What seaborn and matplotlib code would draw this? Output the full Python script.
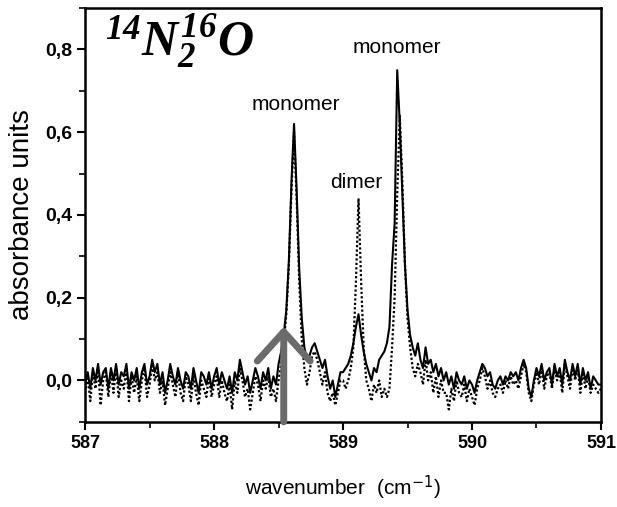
import numpy as np
import pandas as pd
import matplotlib
matplotlib.use('Agg')
import matplotlib.pyplot as plt
from matplotlib.ticker import MultipleLocator
import seaborn as sns

# wavenumber grid (cm-1), one point every 0.02
wavenumber = np.round(np.arange(587.0, 591.0001, 0.02), 2)

# solid trace (10 points = 0.2 cm-1)
solid = [
    -0.01, 0.02, -0.02, 0.03, 0.00, 0.04, -0.01, 0.02, 0.03, -0.02,
    0.03, 0.00, 0.04, -0.01, 0.02, 0.01, 0.04, -0.02, 0.02, 0.00,
    0.03, -0.02, 0.02, 0.04, -0.01, 0.01, 0.05, 0.02, 0.04, -0.01,
    0.02, -0.03, 0.00, 0.04, 0.01, -0.01, 0.03, 0.00, -0.02, 0.02,
    0.01, -0.02, 0.03, 0.00, -0.03, 0.02, 0.01, -0.01, 0.02, -0.02,
    0.01, 0.03, -0.01, 0.02, 0.00, -0.02, 0.01, -0.03, 0.02, 0.00,
    0.05, 0.02, -0.01, 0.01, -0.03, 0.00, 0.03, 0.01, -0.02, 0.02,
    0.00, 0.03, -0.02, 0.01, -0.01, 0.04, 0.07, 0.11, 0.17, 0.29,
    0.48, 0.62, 0.46, 0.27, 0.15, 0.08, 0.05, 0.06, 0.08, 0.09,
    0.07, 0.05, 0.03, 0.05, 0.01, -0.02, 0.00, -0.04, -0.01, 0.02,
    0.02, 0.03, 0.04, 0.06, 0.09, 0.13, 0.16, 0.11, 0.07, 0.04,
    0.02, 0.00, 0.03, 0.02, 0.05, 0.06, 0.07, 0.09, 0.13, 0.28,
    0.38, 0.75, 0.62, 0.45, 0.28, 0.17, 0.11, 0.08, 0.06, 0.09,
    0.05, 0.03, 0.08, 0.04, 0.05, 0.02, 0.04, 0.01, 0.03, 0.00,
    0.02, -0.01, 0.01, -0.02, 0.02, 0.00, -0.01, 0.01, -0.02, 0.00,
    -0.01, -0.03, 0.00, 0.02, 0.04, 0.03, 0.01, 0.02, -0.01, -0.02,
    0.00, 0.01, -0.01, 0.01, 0.00, 0.02, 0.01, 0.02, 0.00, 0.03,
    0.05, 0.03, -0.02, -0.04, 0.00, 0.03, 0.01, 0.04, 0.00, 0.02,
    0.03, -0.01, 0.04, 0.01, 0.03, -0.01, 0.05, 0.02, 0.00, 0.04,
    0.01, 0.04, -0.01, 0.03, 0.00, 0.02, -0.02, 0.01, 0.00, -0.01,
    -0.01,
]

# dotted trace
dotted = [
    -0.03, 0.01, -0.05, 0.02, -0.02, 0.03, -0.06, 0.00, 0.02, -0.04,
    0.02, -0.03, 0.03, -0.04, 0.00, -0.02, 0.03, -0.05, 0.01, -0.03,
    0.01, -0.05, 0.00, 0.03, -0.04, -0.01, 0.04, 0.00, 0.02, -0.03,
    0.00, -0.06, -0.02, 0.02, -0.01, -0.04, 0.02, -0.03, -0.05, 0.01,
    -0.01, -0.05, 0.01, -0.03, -0.06, 0.00, -0.02, -0.04, 0.01, -0.04,
    -0.01, 0.01, -0.04, 0.00, -0.03, -0.05, -0.01, -0.07, 0.00, -0.03,
    0.03, 0.00, -0.04, -0.02, -0.07, -0.03, 0.01, -0.01, -0.05, 0.00,
    -0.02, 0.01, -0.04, -0.02, -0.05, 0.00, 0.04, 0.09, 0.16, 0.28,
    0.46, 0.60, 0.44, 0.24, 0.10, 0.03, -0.01, 0.02, 0.06, 0.07,
    0.05, 0.02, -0.01, 0.02, -0.03, -0.05, -0.03, -0.06, -0.03, 0.00,
    0.00, -0.02, 0.00, 0.03, 0.08, 0.24, 0.44, 0.24, 0.08, 0.00,
    -0.02, -0.05, -0.01, -0.03, 0.00, -0.04, -0.02, -0.04, -0.02, 0.08,
    0.20, 0.45, 0.64, 0.48, 0.28, 0.15, 0.08, 0.03, 0.01, 0.04,
    0.02, -0.01, 0.05, 0.00, 0.02, -0.03, 0.01, -0.04, 0.00, -0.03,
    -0.03, -0.07, -0.02, -0.05, 0.00, -0.03, -0.04, -0.01, -0.05, -0.02,
    -0.04, -0.06, -0.02, 0.00, 0.03, 0.01, -0.02, 0.00, -0.03, -0.04,
    -0.02, -0.01, -0.03, 0.00, -0.02, 0.01, -0.01, 0.00, -0.02, 0.01,
    0.04, 0.02, -0.03, -0.05, -0.01, 0.02, -0.01, 0.03, -0.02, 0.01,
    0.02, -0.02, 0.03, 0.00, 0.02, -0.03, 0.04, 0.01, -0.02, 0.03,
    0.00, 0.03, -0.03, 0.02, -0.02, 0.01, -0.03, -0.01, -0.02, -0.03,
    -0.02,
]

# peak labels: (text, x, y)
peak_labels = ['monomer', 'dimer', 'monomer']
peak_x = [588.63, 589.10, 589.42]
peak_y = [0.645, 0.455, 0.783]

xticks = [587, 588, 589, 590, 591]
yticks = [0.0, 0.2, 0.4, 0.6, 0.8]
ytick_labels = ['0,0', '0,2', '0,4', '0,6', '0,8']

arrow_x = 588.54
arrow_top = 0.13

df = pd.DataFrame({'wavenumber': wavenumber, 'solid': solid, 'dotted': dotted})

sns.set_style('ticks')
plt.rcParams['font.family'] = ['Liberation Sans', 'DejaVu Sans']
plt.rcParams['text.color'] = 'black'
plt.rcParams['axes.labelcolor'] = 'black'
plt.rcParams['xtick.color'] = 'black'
plt.rcParams['ytick.color'] = 'black'
plt.rcParams['mathtext.fontset'] = 'custom'
plt.rcParams['mathtext.rm'] = 'Liberation Serif:style=italic:weight=bold'
plt.rcParams['mathtext.it'] = 'Liberation Serif:style=italic:weight=bold'
plt.rcParams['mathtext.bf'] = 'Liberation Serif:style=italic:weight=bold'

fig = plt.figure(figsize=(6.17, 5.07), dpi=100)
ax = fig.add_axes([0.138, 0.168, 0.836, 0.816])

sns.lineplot(data=df, x='wavenumber', y='dotted', ax=ax, color='black',
             lw=1.6, linestyle=(0, (1, 1)), zorder=2)
sns.lineplot(data=df, x='wavenumber', y='solid', ax=ax, color='black',
             lw=1.5, zorder=3)

# grey arrow pointing at the monomer band
ax.annotate('', xy=(arrow_x, arrow_top), xytext=(arrow_x, -0.1),
            arrowprops=dict(arrowstyle='->,head_length=1.05,head_width=0.95',
                            lw=5, color='#6b6b6b', mutation_scale=20,
                            shrinkA=0, shrinkB=0),
            zorder=4, annotation_clip=False)

for lab, px, py in zip(peak_labels, peak_x, peak_y):
    ax.text(px, py, lab, ha='center', va='bottom', fontsize=15, color='black')

ax.text(0.038, 0.885, r'$^{14}N_2^{16}O$', transform=ax.transAxes,
        fontsize=36, va='baseline', ha='left', color='black')

ax.set_xlim(587, 591)
ax.set_ylim(-0.1, 0.9)
ax.set_xticks(xticks)
ax.set_xticklabels([str(t) for t in xticks], fontsize=13, fontweight='bold')
ax.set_yticks(yticks)
ax.set_yticklabels(ytick_labels, fontsize=14, fontweight='bold')
ax.xaxis.set_minor_locator(MultipleLocator(0.5))
ax.yaxis.set_minor_locator(MultipleLocator(0.1))
ax.tick_params(which='major', direction='out', length=6, width=1.5, color='black')
ax.tick_params(which='minor', direction='out', length=4, width=1.2, color='black')

for sp in ax.spines.values():
    sp.set_visible(True)
    sp.set_linewidth(1.8)
    sp.set_color('black')

ax.set_xlabel('wavenumber  (cm$^{\\mathsf{-1}}$)', fontsize=15, labelpad=15)
ax.set_ylabel('absorbance units', fontsize=20, labelpad=7)

fig.savefig('out.png', dpi=100, facecolor='white')
